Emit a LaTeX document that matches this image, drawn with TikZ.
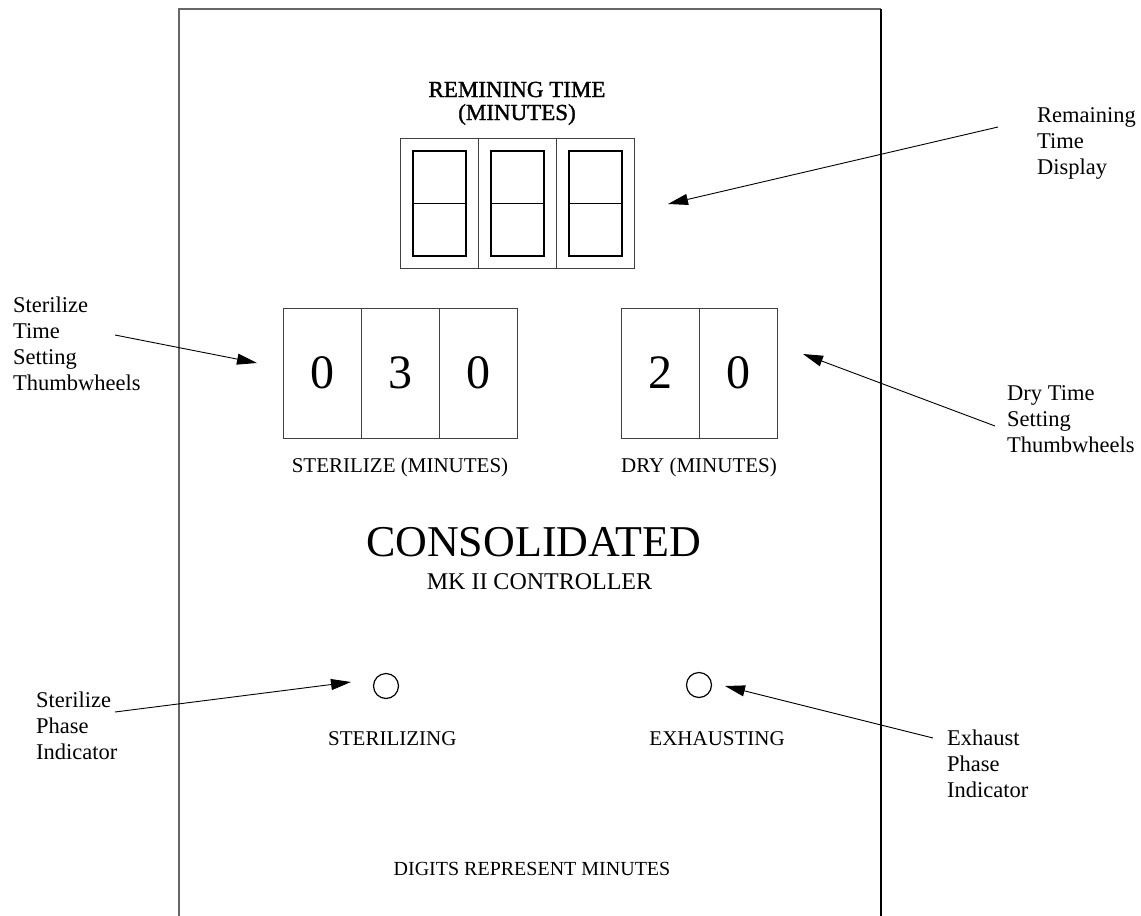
\documentclass[tikz,border=0pt]{standalone}
\usepackage{fontspec}
\setmainfont{Liberation Serif}
\newfontfamily\titlefont[FakeBold=1.4]{Liberation Serif}
\usetikzlibrary{arrows.meta}
\tikzset{
  panelline/.style={line width=1.2pt, draw=black!60},
  boxline/.style={line width=0.9pt, draw=black!75},
  segline/.style={line width=1.6pt, draw=black},
  wheel/.style={boxline, minimum width=78pt, minimum height=130pt, inner sep=0pt, font=\fontsize{48}{50}\selectfont},
  caps/.style={inner sep=0pt, font=\fontsize{21}{24}\selectfont},
  note/.style={inner sep=0pt, align=left, font=\fontsize{22.5}{26}\selectfont},
  ptr/.style={line width=0.9pt, -{Triangle[length=20pt,width=11pt]}},
  lamp/.style={circle, draw=black, line width=1.2pt, minimum size=25pt, inner sep=0pt}
}
\begin{document}
\begin{tikzpicture}[x=1pt,y=-1pt]
\useasboundingbox (0,0) rectangle (1141,916);
% panel outline
\draw[panelline] (179,930) -- (179,9) -- (881,9);
\draw[line width=1.2pt, draw=black] (881,9) -- (881,930);
% title (base anchor = last line)
\node[inner sep=0pt, align=center, anchor=base, font=\titlefont\fontsize{23}{23}\selectfont] (title) at (517,120) {REMINING TIME\\(MINUTES)};
% remaining time display
\node[boxline, draw, minimum width=234pt, minimum height=130pt, inner sep=0pt] (disp) at (517,203) {};
\draw[boxline] (478,138) -- (478,268);
\draw[boxline] (556,138) -- (556,268);
\foreach \cx in {413,491,569}{
  \draw[segline] (\cx,151) rectangle (\cx+53,256);
  \draw[segline] (\cx,203.5) -- (\cx+53,203.5);
}
% sterilize thumbwheels
\node[wheel, draw] (s1) at (322,373) {0};
\node[wheel, draw] (s2) at (400,373) {3};
\node[wheel, draw] (s3) at (478,373) {0};
\node[caps, anchor=base] (slab) at (400,472) {STERILIZE (MINUTES)};
% dry thumbwheels
\node[wheel, draw] (w1) at (660,373) {2};
\node[wheel, draw] (w2) at (738,373) {0};
\node[caps, anchor=base] (dlab) at (699,472) {DRY (MINUTES)};
% brand
\node[inner sep=0pt, anchor=base, font=\fontsize{44}{46}\selectfont] (brand) at (533.5,556) {CONSOLIDATED};
\node[inner sep=0pt, anchor=base, font=\fontsize{24}{26}\selectfont] (model) at (539.5,589) {MK II CONTROLLER};
% indicators
\node[lamp] (lamp1) at (386,686) {};
\node[lamp] (lamp2) at (699,685) {};
\node[caps, anchor=base west] (ster) at (328,745) {STERILIZING};
\node[caps, anchor=base east] (exh) at (785,745) {EXHAUSTING};
\node[inner sep=0pt, anchor=base, font=\fontsize{20}{22}\selectfont] (foot) at (532,875) {DIGITS REPRESENT MINUTES};
% callout labels (base anchor = last line)
\node[note, anchor=base west] (n1) at (1037,174) {Remaining\\Time\\Display};
\node[note, anchor=base west] (n2) at (13,390.5) {Sterilize\\Time\\Setting\\Thumbwheels};
\node[note, anchor=base west] (n3) at (1007,452) {Dry Time\\Setting\\Thumbwheels};
\node[note, anchor=base west] (n4) at (36,759.5) {Sterilize\\Phase\\Indicator};
\node[note, anchor=base west] (n5) at (947,797.5) {Exhaust\\Phase\\Indicator};
% arrow end points
\coordinate (a1s) at (998,127);  \coordinate (a1t) at (668,204);
\coordinate (a2s) at (115,335);  \coordinate (a2t) at (257,363);
\coordinate (a3s) at (995,426);  \coordinate (a3t) at (803,354);
\coordinate (a4s) at (115,712);  \coordinate (a4t) at (351,682);
\coordinate (a5s) at (933,738);  \coordinate (a5t) at (725,686);
\draw[ptr] (a1s) -- (a1t);
\draw[ptr] (a2s) -- (a2t);
\draw[ptr] (a3s) -- (a3t);
\draw[ptr] (a4s) -- (a4t);
\draw[ptr] (a5s) -- (a5t);
\end{tikzpicture}
\end{document}
